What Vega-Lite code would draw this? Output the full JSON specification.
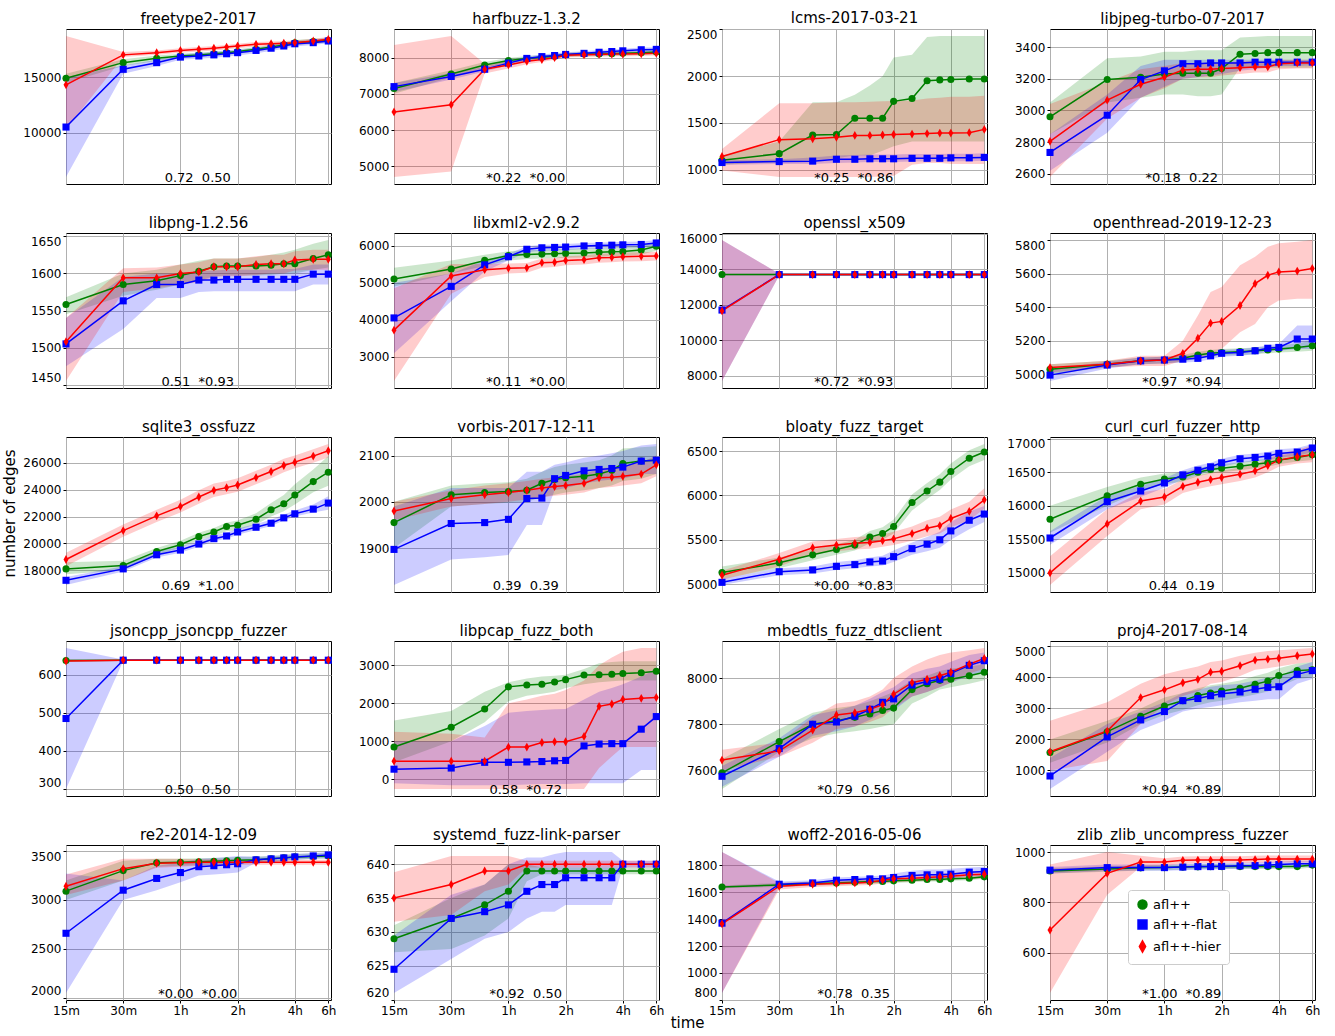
{
  "$schema": "https://vega.github.io/schema/vega-lite/v6.json",
  "background": "white",
  "padding": {"left": 3, "top": 10, "right": 4, "bottom": 2},
  "datasets": {
    "panels": [
      {"p": 1, "name": "freetype2-2017", "note": "0.72\u00a0\u00a00.50"},
      {"p": 2, "name": "harfbuzz-1.3.2", "note": "*0.22\u00a0\u00a0*0.00"},
      {"p": 3, "name": "lcms-2017-03-21", "note": "*0.25\u00a0\u00a0*0.86"},
      {"p": 4, "name": "libjpeg-turbo-07-2017", "note": "*0.18\u00a0\u00a00.22"},
      {"p": 5, "name": "libpng-1.2.56", "note": "0.51\u00a0\u00a0*0.93"},
      {"p": 6, "name": "libxml2-v2.9.2", "note": "*0.11\u00a0\u00a0*0.00"},
      {"p": 7, "name": "openssl_x509", "note": "*0.72\u00a0\u00a0*0.93"},
      {"p": 8, "name": "openthread-2019-12-23", "note": "*0.97\u00a0\u00a0*0.94"},
      {"p": 9, "name": "sqlite3_ossfuzz", "note": "0.69\u00a0\u00a0*1.00"},
      {"p": 10, "name": "vorbis-2017-12-11", "note": "0.39\u00a0\u00a00.39"},
      {"p": 11, "name": "bloaty_fuzz_target", "note": "*0.00\u00a0\u00a0*0.83"},
      {"p": 12, "name": "curl_curl_fuzzer_http", "note": "0.44\u00a0\u00a00.19"},
      {"p": 13, "name": "jsoncpp_jsoncpp_fuzzer", "note": "0.50\u00a0\u00a00.50"},
      {"p": 14, "name": "libpcap_fuzz_both", "note": "0.58\u00a0\u00a0*0.72"},
      {"p": 15, "name": "mbedtls_fuzz_dtlsclient", "note": "*0.79\u00a0\u00a00.56"},
      {"p": 16, "name": "proj4-2017-08-14", "note": "*0.94\u00a0\u00a0*0.89"},
      {"p": 17, "name": "re2-2014-12-09", "note": "*0.00\u00a0\u00a0*0.00"},
      {"p": 18, "name": "systemd_fuzz-link-parser", "note": "*0.92\u00a0\u00a00.50"},
      {"p": 19, "name": "woff2-2016-05-06", "note": "*0.78\u00a0\u00a00.35"},
      {"p": 20, "name": "zlib_zlib_uncompress_fuzzer", "note": "*1.00\u00a0\u00a0*0.89"}
    ],
    "runs": [
      {"p":1,"s":"g","t":15,"m":14900,"lo":14500,"hi":15300},
      {"p":1,"s":"g","t":30,"m":16300,"lo":16000,"hi":16600},
      {"p":1,"s":"g","t":45,"m":16700,"lo":16450,"hi":16950},
      {"p":1,"s":"g","t":60,"m":16900,"lo":16700,"hi":17100},
      {"p":1,"s":"g","t":75,"m":17000,"lo":16800,"hi":17200},
      {"p":1,"s":"g","t":90,"m":17100,"lo":16900,"hi":17300},
      {"p":1,"s":"g","t":105,"m":17200,"lo":17000,"hi":17400},
      {"p":1,"s":"g","t":120,"m":17300,"lo":17100,"hi":17500},
      {"p":1,"s":"g","t":150,"m":17500,"lo":17300,"hi":17700},
      {"p":1,"s":"g","t":180,"m":17700,"lo":17500,"hi":17900},
      {"p":1,"s":"g","t":210,"m":17900,"lo":17700,"hi":18100},
      {"p":1,"s":"g","t":240,"m":18100,"lo":17900,"hi":18350},
      {"p":1,"s":"g","t":300,"m":18200,"lo":18000,"hi":18450},
      {"p":1,"s":"g","t":360,"m":18300,"lo":18100,"hi":18500},
      {"p":1,"s":"b","t":15,"m":10500,"lo":6000,"hi":15000},
      {"p":1,"s":"b","t":30,"m":15700,"lo":15300,"hi":16050},
      {"p":1,"s":"b","t":45,"m":16300,"lo":16000,"hi":16550},
      {"p":1,"s":"b","t":60,"m":16800,"lo":16550,"hi":17050},
      {"p":1,"s":"b","t":75,"m":16900,"lo":16650,"hi":17150},
      {"p":1,"s":"b","t":90,"m":17000,"lo":16750,"hi":17250},
      {"p":1,"s":"b","t":105,"m":17100,"lo":16850,"hi":17350},
      {"p":1,"s":"b","t":120,"m":17200,"lo":16950,"hi":17450},
      {"p":1,"s":"b","t":150,"m":17400,"lo":17150,"hi":17650},
      {"p":1,"s":"b","t":180,"m":17600,"lo":17350,"hi":17850},
      {"p":1,"s":"b","t":210,"m":17800,"lo":17550,"hi":18050},
      {"p":1,"s":"b","t":240,"m":18000,"lo":17750,"hi":18250},
      {"p":1,"s":"b","t":300,"m":18100,"lo":17900,"hi":18350},
      {"p":1,"s":"b","t":360,"m":18250,"lo":18050,"hi":18550},
      {"p":1,"s":"r","t":15,"m":14300,"lo":10300,"hi":18700},
      {"p":1,"s":"r","t":30,"m":17000,"lo":16800,"hi":17250},
      {"p":1,"s":"r","t":45,"m":17200,"lo":17000,"hi":17400},
      {"p":1,"s":"r","t":60,"m":17400,"lo":17200,"hi":17600},
      {"p":1,"s":"r","t":75,"m":17500,"lo":17300,"hi":17700},
      {"p":1,"s":"r","t":90,"m":17600,"lo":17400,"hi":17800},
      {"p":1,"s":"r","t":105,"m":17700,"lo":17500,"hi":17900},
      {"p":1,"s":"r","t":120,"m":17800,"lo":17600,"hi":18000},
      {"p":1,"s":"r","t":150,"m":17950,"lo":17750,"hi":18150},
      {"p":1,"s":"r","t":180,"m":18000,"lo":17800,"hi":18200},
      {"p":1,"s":"r","t":210,"m":18050,"lo":17850,"hi":18250},
      {"p":1,"s":"r","t":240,"m":18100,"lo":17900,"hi":18300},
      {"p":1,"s":"r","t":300,"m":18250,"lo":18050,"hi":18450},
      {"p":1,"s":"r","t":360,"m":18400,"lo":18200,"hi":18600},

      {"p":2,"s":"g","t":15,"m":7150,"lo":7000,"hi":7300},
      {"p":2,"s":"g","t":30,"m":7550,"lo":7450,"hi":7650},
      {"p":2,"s":"g","t":45,"m":7800,"lo":7720,"hi":7880},
      {"p":2,"s":"g","t":60,"m":7920,"lo":7850,"hi":7990},
      {"p":2,"s":"g","t":75,"m":7980,"lo":7910,"hi":8050},
      {"p":2,"s":"g","t":90,"m":8010,"lo":7950,"hi":8070},
      {"p":2,"s":"g","t":105,"m":8040,"lo":7980,"hi":8100},
      {"p":2,"s":"g","t":120,"m":8080,"lo":8020,"hi":8140},
      {"p":2,"s":"g","t":150,"m":8100,"lo":8040,"hi":8160},
      {"p":2,"s":"g","t":180,"m":8100,"lo":8040,"hi":8160},
      {"p":2,"s":"g","t":210,"m":8110,"lo":8050,"hi":8170},
      {"p":2,"s":"g","t":240,"m":8120,"lo":8060,"hi":8180},
      {"p":2,"s":"g","t":300,"m":8140,"lo":8080,"hi":8200},
      {"p":2,"s":"g","t":360,"m":8160,"lo":8100,"hi":8220},
      {"p":2,"s":"b","t":15,"m":7200,"lo":7050,"hi":7300},
      {"p":2,"s":"b","t":30,"m":7480,"lo":7400,"hi":7580},
      {"p":2,"s":"b","t":45,"m":7680,"lo":7620,"hi":7750},
      {"p":2,"s":"b","t":60,"m":7850,"lo":7790,"hi":7910},
      {"p":2,"s":"b","t":75,"m":7980,"lo":7920,"hi":8040},
      {"p":2,"s":"b","t":90,"m":8030,"lo":7970,"hi":8090},
      {"p":2,"s":"b","t":105,"m":8060,"lo":8000,"hi":8120},
      {"p":2,"s":"b","t":120,"m":8090,"lo":8030,"hi":8150},
      {"p":2,"s":"b","t":150,"m":8120,"lo":8060,"hi":8180},
      {"p":2,"s":"b","t":180,"m":8150,"lo":8090,"hi":8210},
      {"p":2,"s":"b","t":210,"m":8170,"lo":8110,"hi":8230},
      {"p":2,"s":"b","t":240,"m":8190,"lo":8130,"hi":8250},
      {"p":2,"s":"b","t":300,"m":8220,"lo":8160,"hi":8280},
      {"p":2,"s":"b","t":360,"m":8230,"lo":8170,"hi":8290},
      {"p":2,"s":"r","t":15,"m":6500,"lo":4700,"hi":8350},
      {"p":2,"s":"r","t":30,"m":6700,"lo":4850,"hi":8600},
      {"p":2,"s":"r","t":45,"m":7680,"lo":7560,"hi":7830},
      {"p":2,"s":"r","t":60,"m":7800,"lo":7700,"hi":7900},
      {"p":2,"s":"r","t":75,"m":7900,"lo":7820,"hi":7980},
      {"p":2,"s":"r","t":90,"m":7950,"lo":7880,"hi":8020},
      {"p":2,"s":"r","t":105,"m":8000,"lo":7940,"hi":8060},
      {"p":2,"s":"r","t":120,"m":8070,"lo":8010,"hi":8130},
      {"p":2,"s":"r","t":150,"m":8080,"lo":8020,"hi":8140},
      {"p":2,"s":"r","t":180,"m":8090,"lo":8030,"hi":8150},
      {"p":2,"s":"r","t":210,"m":8100,"lo":8040,"hi":8160},
      {"p":2,"s":"r","t":240,"m":8100,"lo":8040,"hi":8160},
      {"p":2,"s":"r","t":300,"m":8110,"lo":8050,"hi":8170},
      {"p":2,"s":"r","t":360,"m":8120,"lo":8060,"hi":8180},

      {"p":3,"s":"g","t":15,"m":1100,"lo":1050,"hi":1150},
      {"p":3,"s":"g","t":30,"m":1170,"lo":1080,"hi":1300},
      {"p":3,"s":"g","t":45,"m":1370,"lo":1100,"hi":1720},
      {"p":3,"s":"g","t":60,"m":1375,"lo":1120,"hi":1720},
      {"p":3,"s":"g","t":75,"m":1550,"lo":1150,"hi":1800},
      {"p":3,"s":"g","t":90,"m":1550,"lo":1150,"hi":1900},
      {"p":3,"s":"g","t":105,"m":1550,"lo":1200,"hi":2000},
      {"p":3,"s":"g","t":120,"m":1730,"lo":1250,"hi":2200},
      {"p":3,"s":"g","t":150,"m":1760,"lo":1300,"hi":2230},
      {"p":3,"s":"g","t":180,"m":1950,"lo":1300,"hi":2420},
      {"p":3,"s":"g","t":210,"m":1960,"lo":1300,"hi":2430},
      {"p":3,"s":"g","t":240,"m":1965,"lo":1300,"hi":2430},
      {"p":3,"s":"g","t":300,"m":1970,"lo":1300,"hi":2430},
      {"p":3,"s":"g","t":360,"m":1970,"lo":1300,"hi":2430},
      {"p":3,"s":"b","t":15,"m":1075,"lo":1050,"hi":1100},
      {"p":3,"s":"b","t":30,"m":1085,"lo":1060,"hi":1110},
      {"p":3,"s":"b","t":45,"m":1090,"lo":1060,"hi":1130},
      {"p":3,"s":"b","t":60,"m":1110,"lo":1070,"hi":1150},
      {"p":3,"s":"b","t":75,"m":1110,"lo":1075,"hi":1155},
      {"p":3,"s":"b","t":90,"m":1115,"lo":1080,"hi":1160},
      {"p":3,"s":"b","t":105,"m":1115,"lo":1080,"hi":1160},
      {"p":3,"s":"b","t":120,"m":1115,"lo":1080,"hi":1160},
      {"p":3,"s":"b","t":150,"m":1120,"lo":1085,"hi":1165},
      {"p":3,"s":"b","t":180,"m":1120,"lo":1085,"hi":1165},
      {"p":3,"s":"b","t":210,"m":1120,"lo":1085,"hi":1165},
      {"p":3,"s":"b","t":240,"m":1125,"lo":1090,"hi":1170},
      {"p":3,"s":"b","t":300,"m":1125,"lo":1090,"hi":1170},
      {"p":3,"s":"b","t":360,"m":1130,"lo":1095,"hi":1175},
      {"p":3,"s":"r","t":15,"m":1140,"lo":990,"hi":1220},
      {"p":3,"s":"r","t":30,"m":1320,"lo":920,"hi":1710},
      {"p":3,"s":"r","t":45,"m":1330,"lo":920,"hi":1710},
      {"p":3,"s":"r","t":60,"m":1345,"lo":920,"hi":1720},
      {"p":3,"s":"r","t":75,"m":1365,"lo":920,"hi":1720},
      {"p":3,"s":"r","t":90,"m":1365,"lo":920,"hi":1725},
      {"p":3,"s":"r","t":105,"m":1370,"lo":925,"hi":1730},
      {"p":3,"s":"r","t":120,"m":1375,"lo":930,"hi":1735},
      {"p":3,"s":"r","t":150,"m":1380,"lo":1050,"hi":1740},
      {"p":3,"s":"r","t":180,"m":1385,"lo":1070,"hi":1760},
      {"p":3,"s":"r","t":210,"m":1390,"lo":1070,"hi":1770},
      {"p":3,"s":"r","t":240,"m":1390,"lo":1060,"hi":1780},
      {"p":3,"s":"r","t":300,"m":1395,"lo":1060,"hi":1780},
      {"p":3,"s":"r","t":360,"m":1430,"lo":1060,"hi":1790},

      {"p":4,"s":"g","t":15,"m":2960,"lo":2850,"hi":3050},
      {"p":4,"s":"g","t":30,"m":3195,"lo":3050,"hi":3330},
      {"p":4,"s":"g","t":45,"m":3210,"lo":3080,"hi":3340},
      {"p":4,"s":"g","t":60,"m":3230,"lo":3100,"hi":3370},
      {"p":4,"s":"g","t":75,"m":3235,"lo":3100,"hi":3370},
      {"p":4,"s":"g","t":90,"m":3235,"lo":3090,"hi":3380},
      {"p":4,"s":"g","t":105,"m":3235,"lo":3090,"hi":3380},
      {"p":4,"s":"g","t":120,"m":3265,"lo":3100,"hi":3380},
      {"p":4,"s":"g","t":150,"m":3355,"lo":3270,"hi":3460},
      {"p":4,"s":"g","t":180,"m":3360,"lo":3270,"hi":3465},
      {"p":4,"s":"g","t":210,"m":3365,"lo":3270,"hi":3470},
      {"p":4,"s":"g","t":240,"m":3365,"lo":3270,"hi":3470},
      {"p":4,"s":"g","t":300,"m":3365,"lo":3270,"hi":3470},
      {"p":4,"s":"g","t":360,"m":3365,"lo":3270,"hi":3470},
      {"p":4,"s":"b","t":15,"m":2735,"lo":2620,"hi":2850},
      {"p":4,"s":"b","t":30,"m":2970,"lo":2860,"hi":3100},
      {"p":4,"s":"b","t":45,"m":3195,"lo":3080,"hi":3280},
      {"p":4,"s":"b","t":60,"m":3250,"lo":3150,"hi":3320},
      {"p":4,"s":"b","t":75,"m":3295,"lo":3200,"hi":3320},
      {"p":4,"s":"b","t":90,"m":3295,"lo":3210,"hi":3320},
      {"p":4,"s":"b","t":105,"m":3300,"lo":3220,"hi":3320},
      {"p":4,"s":"b","t":120,"m":3300,"lo":3230,"hi":3320},
      {"p":4,"s":"b","t":150,"m":3300,"lo":3250,"hi":3320},
      {"p":4,"s":"b","t":180,"m":3305,"lo":3260,"hi":3320},
      {"p":4,"s":"b","t":210,"m":3305,"lo":3270,"hi":3320},
      {"p":4,"s":"b","t":240,"m":3305,"lo":3280,"hi":3320},
      {"p":4,"s":"b","t":300,"m":3305,"lo":3280,"hi":3320},
      {"p":4,"s":"b","t":360,"m":3305,"lo":3285,"hi":3320},
      {"p":4,"s":"r","t":15,"m":2805,"lo":2580,"hi":3040},
      {"p":4,"s":"r","t":30,"m":3065,"lo":2950,"hi":3180},
      {"p":4,"s":"r","t":45,"m":3165,"lo":3080,"hi":3260},
      {"p":4,"s":"r","t":60,"m":3210,"lo":3140,"hi":3280},
      {"p":4,"s":"r","t":75,"m":3255,"lo":3200,"hi":3300},
      {"p":4,"s":"r","t":90,"m":3260,"lo":3210,"hi":3300},
      {"p":4,"s":"r","t":105,"m":3260,"lo":3210,"hi":3300},
      {"p":4,"s":"r","t":120,"m":3265,"lo":3220,"hi":3300},
      {"p":4,"s":"r","t":150,"m":3270,"lo":3230,"hi":3310},
      {"p":4,"s":"r","t":180,"m":3275,"lo":3240,"hi":3310},
      {"p":4,"s":"r","t":210,"m":3275,"lo":3240,"hi":3310},
      {"p":4,"s":"r","t":240,"m":3295,"lo":3260,"hi":3320},
      {"p":4,"s":"r","t":300,"m":3300,"lo":3265,"hi":3320},
      {"p":4,"s":"r","t":360,"m":3300,"lo":3265,"hi":3320},

      {"p":5,"s":"g","t":15,"m":1558,"lo":1545,"hi":1568},
      {"p":5,"s":"g","t":30,"m":1585,"lo":1570,"hi":1600},
      {"p":5,"s":"g","t":45,"m":1590,"lo":1578,"hi":1605},
      {"p":5,"s":"g","t":60,"m":1597,"lo":1585,"hi":1612},
      {"p":5,"s":"g","t":75,"m":1603,"lo":1590,"hi":1617},
      {"p":5,"s":"g","t":90,"m":1609,"lo":1596,"hi":1620},
      {"p":5,"s":"g","t":105,"m":1610,"lo":1597,"hi":1620},
      {"p":5,"s":"g","t":120,"m":1610,"lo":1597,"hi":1620},
      {"p":5,"s":"g","t":150,"m":1610,"lo":1597,"hi":1622},
      {"p":5,"s":"g","t":180,"m":1611,"lo":1598,"hi":1625},
      {"p":5,"s":"g","t":210,"m":1613,"lo":1600,"hi":1628},
      {"p":5,"s":"g","t":240,"m":1613,"lo":1600,"hi":1632},
      {"p":5,"s":"g","t":300,"m":1620,"lo":1605,"hi":1640},
      {"p":5,"s":"g","t":360,"m":1625,"lo":1608,"hi":1645},
      {"p":5,"s":"b","t":15,"m":1505,"lo":1475,"hi":1540},
      {"p":5,"s":"b","t":30,"m":1563,"lo":1525,"hi":1595},
      {"p":5,"s":"b","t":45,"m":1585,"lo":1567,"hi":1600},
      {"p":5,"s":"b","t":60,"m":1585,"lo":1567,"hi":1600},
      {"p":5,"s":"b","t":75,"m":1591,"lo":1575,"hi":1603},
      {"p":5,"s":"b","t":90,"m":1591,"lo":1576,"hi":1604},
      {"p":5,"s":"b","t":105,"m":1592,"lo":1576,"hi":1605},
      {"p":5,"s":"b","t":120,"m":1592,"lo":1576,"hi":1605},
      {"p":5,"s":"b","t":150,"m":1592,"lo":1576,"hi":1605},
      {"p":5,"s":"b","t":180,"m":1592,"lo":1576,"hi":1605},
      {"p":5,"s":"b","t":210,"m":1592,"lo":1576,"hi":1606},
      {"p":5,"s":"b","t":240,"m":1592,"lo":1576,"hi":1606},
      {"p":5,"s":"b","t":300,"m":1599,"lo":1585,"hi":1612},
      {"p":5,"s":"b","t":360,"m":1599,"lo":1585,"hi":1612},
      {"p":5,"s":"r","t":15,"m":1508,"lo":1455,"hi":1540},
      {"p":5,"s":"r","t":30,"m":1594,"lo":1575,"hi":1607},
      {"p":5,"s":"r","t":45,"m":1594,"lo":1580,"hi":1608},
      {"p":5,"s":"r","t":60,"m":1600,"lo":1585,"hi":1612},
      {"p":5,"s":"r","t":75,"m":1602,"lo":1588,"hi":1615},
      {"p":5,"s":"r","t":90,"m":1609,"lo":1595,"hi":1620},
      {"p":5,"s":"r","t":105,"m":1609,"lo":1596,"hi":1620},
      {"p":5,"s":"r","t":120,"m":1609,"lo":1596,"hi":1620},
      {"p":5,"s":"r","t":150,"m":1612,"lo":1598,"hi":1623},
      {"p":5,"s":"r","t":180,"m":1613,"lo":1600,"hi":1625},
      {"p":5,"s":"r","t":210,"m":1613,"lo":1600,"hi":1625},
      {"p":5,"s":"r","t":240,"m":1618,"lo":1604,"hi":1630},
      {"p":5,"s":"r","t":300,"m":1619,"lo":1605,"hi":1632},
      {"p":5,"s":"r","t":360,"m":1619,"lo":1605,"hi":1632},

      {"p":6,"s":"g","t":15,"m":5100,"lo":4900,"hi":5400},
      {"p":6,"s":"g","t":30,"m":5370,"lo":5250,"hi":5600},
      {"p":6,"s":"g","t":45,"m":5600,"lo":5450,"hi":5750},
      {"p":6,"s":"g","t":60,"m":5730,"lo":5600,"hi":5850},
      {"p":6,"s":"g","t":75,"m":5760,"lo":5640,"hi":5880},
      {"p":6,"s":"g","t":90,"m":5770,"lo":5650,"hi":5890},
      {"p":6,"s":"g","t":105,"m":5780,"lo":5660,"hi":5900},
      {"p":6,"s":"g","t":120,"m":5790,"lo":5670,"hi":5910},
      {"p":6,"s":"g","t":150,"m":5800,"lo":5680,"hi":5920},
      {"p":6,"s":"g","t":180,"m":5820,"lo":5700,"hi":5940},
      {"p":6,"s":"g","t":210,"m":5830,"lo":5710,"hi":5950},
      {"p":6,"s":"g","t":240,"m":5840,"lo":5720,"hi":5960},
      {"p":6,"s":"g","t":300,"m":5880,"lo":5760,"hi":6000},
      {"p":6,"s":"g","t":360,"m":5980,"lo":5860,"hi":6100},
      {"p":6,"s":"b","t":15,"m":4050,"lo":3100,"hi":5000},
      {"p":6,"s":"b","t":30,"m":4900,"lo":4500,"hi":5250},
      {"p":6,"s":"b","t":45,"m":5480,"lo":5300,"hi":5600},
      {"p":6,"s":"b","t":60,"m":5700,"lo":5600,"hi":5780},
      {"p":6,"s":"b","t":75,"m":5900,"lo":5820,"hi":5980},
      {"p":6,"s":"b","t":90,"m":5940,"lo":5860,"hi":6020},
      {"p":6,"s":"b","t":105,"m":5950,"lo":5870,"hi":6030},
      {"p":6,"s":"b","t":120,"m":5960,"lo":5880,"hi":6040},
      {"p":6,"s":"b","t":150,"m":5990,"lo":5910,"hi":6070},
      {"p":6,"s":"b","t":180,"m":6000,"lo":5920,"hi":6080},
      {"p":6,"s":"b","t":210,"m":6010,"lo":5930,"hi":6090},
      {"p":6,"s":"b","t":240,"m":6020,"lo":5940,"hi":6100},
      {"p":6,"s":"b","t":300,"m":6030,"lo":5950,"hi":6110},
      {"p":6,"s":"b","t":360,"m":6070,"lo":5990,"hi":6150},
      {"p":6,"s":"r","t":15,"m":3720,"lo":2350,"hi":4850},
      {"p":6,"s":"r","t":30,"m":5180,"lo":4700,"hi":5500},
      {"p":6,"s":"r","t":45,"m":5350,"lo":5150,"hi":5500},
      {"p":6,"s":"r","t":60,"m":5390,"lo":5250,"hi":5520},
      {"p":6,"s":"r","t":75,"m":5400,"lo":5270,"hi":5530},
      {"p":6,"s":"r","t":90,"m":5540,"lo":5400,"hi":5650},
      {"p":6,"s":"r","t":105,"m":5550,"lo":5420,"hi":5660},
      {"p":6,"s":"r","t":120,"m":5600,"lo":5470,"hi":5710},
      {"p":6,"s":"r","t":150,"m":5620,"lo":5490,"hi":5730},
      {"p":6,"s":"r","t":180,"m":5670,"lo":5540,"hi":5780},
      {"p":6,"s":"r","t":210,"m":5680,"lo":5550,"hi":5790},
      {"p":6,"s":"r","t":240,"m":5700,"lo":5570,"hi":5810},
      {"p":6,"s":"r","t":300,"m":5710,"lo":5580,"hi":5820},
      {"p":6,"s":"r","t":360,"m":5720,"lo":5600,"hi":5830},

      {"p":7,"s":"g","t":15,"m":13700,"lo":13650,"hi":13750},
      {"p":7,"s":"g","t":30,"m":13700,"lo":13650,"hi":13750},
      {"p":7,"s":"g","t":45,"m":13700,"lo":13650,"hi":13750},
      {"p":7,"s":"g","t":60,"m":13700,"lo":13650,"hi":13750},
      {"p":7,"s":"g","t":75,"m":13700,"lo":13650,"hi":13750},
      {"p":7,"s":"g","t":90,"m":13700,"lo":13650,"hi":13750},
      {"p":7,"s":"g","t":105,"m":13700,"lo":13650,"hi":13750},
      {"p":7,"s":"g","t":120,"m":13700,"lo":13650,"hi":13750},
      {"p":7,"s":"g","t":150,"m":13700,"lo":13650,"hi":13750},
      {"p":7,"s":"g","t":180,"m":13700,"lo":13650,"hi":13750},
      {"p":7,"s":"g","t":210,"m":13700,"lo":13650,"hi":13750},
      {"p":7,"s":"g","t":240,"m":13700,"lo":13650,"hi":13750},
      {"p":7,"s":"g","t":300,"m":13700,"lo":13650,"hi":13750},
      {"p":7,"s":"g","t":360,"m":13700,"lo":13650,"hi":13750},
      {"p":7,"s":"b","t":15,"m":11700,"lo":7700,"hi":15650},
      {"p":7,"s":"b","t":30,"m":13700,"lo":13650,"hi":13750},
      {"p":7,"s":"b","t":45,"m":13700,"lo":13650,"hi":13750},
      {"p":7,"s":"b","t":60,"m":13700,"lo":13650,"hi":13750},
      {"p":7,"s":"b","t":75,"m":13700,"lo":13650,"hi":13750},
      {"p":7,"s":"b","t":90,"m":13700,"lo":13650,"hi":13750},
      {"p":7,"s":"b","t":105,"m":13700,"lo":13650,"hi":13750},
      {"p":7,"s":"b","t":120,"m":13700,"lo":13650,"hi":13750},
      {"p":7,"s":"b","t":150,"m":13700,"lo":13650,"hi":13750},
      {"p":7,"s":"b","t":180,"m":13700,"lo":13650,"hi":13750},
      {"p":7,"s":"b","t":210,"m":13700,"lo":13650,"hi":13750},
      {"p":7,"s":"b","t":240,"m":13700,"lo":13650,"hi":13750},
      {"p":7,"s":"b","t":300,"m":13700,"lo":13650,"hi":13750},
      {"p":7,"s":"b","t":360,"m":13700,"lo":13650,"hi":13750},
      {"p":7,"s":"r","t":15,"m":11650,"lo":7700,"hi":15650},
      {"p":7,"s":"r","t":30,"m":13700,"lo":13650,"hi":13750},
      {"p":7,"s":"r","t":45,"m":13700,"lo":13650,"hi":13750},
      {"p":7,"s":"r","t":60,"m":13700,"lo":13650,"hi":13750},
      {"p":7,"s":"r","t":75,"m":13700,"lo":13650,"hi":13750},
      {"p":7,"s":"r","t":90,"m":13700,"lo":13650,"hi":13750},
      {"p":7,"s":"r","t":105,"m":13700,"lo":13650,"hi":13750},
      {"p":7,"s":"r","t":120,"m":13700,"lo":13650,"hi":13750},
      {"p":7,"s":"r","t":150,"m":13700,"lo":13650,"hi":13750},
      {"p":7,"s":"r","t":180,"m":13700,"lo":13650,"hi":13750},
      {"p":7,"s":"r","t":210,"m":13700,"lo":13650,"hi":13750},
      {"p":7,"s":"r","t":240,"m":13700,"lo":13650,"hi":13750},
      {"p":7,"s":"r","t":300,"m":13700,"lo":13650,"hi":13750},
      {"p":7,"s":"r","t":360,"m":13700,"lo":13650,"hi":13750},

      {"p":8,"s":"g","t":15,"m":5030,"lo":5000,"hi":5060},
      {"p":8,"s":"g","t":30,"m":5060,"lo":5040,"hi":5080},
      {"p":8,"s":"g","t":45,"m":5080,"lo":5060,"hi":5100},
      {"p":8,"s":"g","t":60,"m":5085,"lo":5065,"hi":5105},
      {"p":8,"s":"g","t":75,"m":5095,"lo":5075,"hi":5115},
      {"p":8,"s":"g","t":90,"m":5115,"lo":5095,"hi":5135},
      {"p":8,"s":"g","t":105,"m":5125,"lo":5105,"hi":5145},
      {"p":8,"s":"g","t":120,"m":5130,"lo":5110,"hi":5150},
      {"p":8,"s":"g","t":150,"m":5135,"lo":5115,"hi":5155},
      {"p":8,"s":"g","t":180,"m":5140,"lo":5120,"hi":5160},
      {"p":8,"s":"g","t":210,"m":5145,"lo":5125,"hi":5165},
      {"p":8,"s":"g","t":240,"m":5150,"lo":5130,"hi":5170},
      {"p":8,"s":"g","t":300,"m":5160,"lo":5135,"hi":5185},
      {"p":8,"s":"g","t":360,"m":5170,"lo":5140,"hi":5200},
      {"p":8,"s":"b","t":15,"m":4995,"lo":4960,"hi":5030},
      {"p":8,"s":"b","t":30,"m":5055,"lo":5035,"hi":5075},
      {"p":8,"s":"b","t":45,"m":5080,"lo":5060,"hi":5100},
      {"p":8,"s":"b","t":60,"m":5085,"lo":5065,"hi":5105},
      {"p":8,"s":"b","t":75,"m":5090,"lo":5070,"hi":5110},
      {"p":8,"s":"b","t":90,"m":5095,"lo":5075,"hi":5115},
      {"p":8,"s":"b","t":105,"m":5110,"lo":5090,"hi":5130},
      {"p":8,"s":"b","t":120,"m":5125,"lo":5105,"hi":5145},
      {"p":8,"s":"b","t":150,"m":5130,"lo":5110,"hi":5150},
      {"p":8,"s":"b","t":180,"m":5140,"lo":5120,"hi":5160},
      {"p":8,"s":"b","t":210,"m":5155,"lo":5135,"hi":5175},
      {"p":8,"s":"b","t":240,"m":5160,"lo":5140,"hi":5180},
      {"p":8,"s":"b","t":300,"m":5210,"lo":5150,"hi":5290},
      {"p":8,"s":"b","t":360,"m":5210,"lo":5150,"hi":5290},
      {"p":8,"s":"r","t":15,"m":5040,"lo":5010,"hi":5060},
      {"p":8,"s":"r","t":30,"m":5060,"lo":5040,"hi":5080},
      {"p":8,"s":"r","t":45,"m":5080,"lo":5050,"hi":5110},
      {"p":8,"s":"r","t":60,"m":5085,"lo":5050,"hi":5110},
      {"p":8,"s":"r","t":75,"m":5125,"lo":5080,"hi":5200},
      {"p":8,"s":"r","t":90,"m":5215,"lo":5100,"hi":5350},
      {"p":8,"s":"r","t":105,"m":5305,"lo":5120,"hi":5490},
      {"p":8,"s":"r","t":120,"m":5315,"lo":5150,"hi":5520},
      {"p":8,"s":"r","t":150,"m":5410,"lo":5250,"hi":5650},
      {"p":8,"s":"r","t":180,"m":5540,"lo":5300,"hi":5700},
      {"p":8,"s":"r","t":210,"m":5590,"lo":5400,"hi":5760},
      {"p":8,"s":"r","t":240,"m":5610,"lo":5440,"hi":5780},
      {"p":8,"s":"r","t":300,"m":5615,"lo":5450,"hi":5790},
      {"p":8,"s":"r","t":360,"m":5630,"lo":5450,"hi":5800},

      {"p":9,"s":"g","t":15,"m":18100,"lo":17700,"hi":18600},
      {"p":9,"s":"g","t":30,"m":18350,"lo":18000,"hi":18700},
      {"p":9,"s":"g","t":45,"m":19400,"lo":19150,"hi":19650},
      {"p":9,"s":"g","t":60,"m":19900,"lo":19650,"hi":20200},
      {"p":9,"s":"g","t":75,"m":20500,"lo":20250,"hi":20800},
      {"p":9,"s":"g","t":90,"m":20850,"lo":20550,"hi":21150},
      {"p":9,"s":"g","t":105,"m":21250,"lo":20900,"hi":21550},
      {"p":9,"s":"g","t":120,"m":21350,"lo":21000,"hi":21700},
      {"p":9,"s":"g","t":150,"m":21800,"lo":21400,"hi":22250},
      {"p":9,"s":"g","t":180,"m":22500,"lo":22000,"hi":23000},
      {"p":9,"s":"g","t":210,"m":22950,"lo":22400,"hi":23600},
      {"p":9,"s":"g","t":240,"m":23600,"lo":22900,"hi":24400},
      {"p":9,"s":"g","t":300,"m":24600,"lo":23800,"hi":25500},
      {"p":9,"s":"g","t":360,"m":25300,"lo":24300,"hi":26500},
      {"p":9,"s":"b","t":15,"m":17250,"lo":16900,"hi":17500},
      {"p":9,"s":"b","t":30,"m":18100,"lo":17900,"hi":18300},
      {"p":9,"s":"b","t":45,"m":19150,"lo":18950,"hi":19400},
      {"p":9,"s":"b","t":60,"m":19500,"lo":19300,"hi":19750},
      {"p":9,"s":"b","t":75,"m":19950,"lo":19750,"hi":20200},
      {"p":9,"s":"b","t":90,"m":20350,"lo":20150,"hi":20600},
      {"p":9,"s":"b","t":105,"m":20550,"lo":20350,"hi":20800},
      {"p":9,"s":"b","t":120,"m":20850,"lo":20650,"hi":21100},
      {"p":9,"s":"b","t":150,"m":21200,"lo":21000,"hi":21450},
      {"p":9,"s":"b","t":180,"m":21500,"lo":21300,"hi":21750},
      {"p":9,"s":"b","t":210,"m":21900,"lo":21700,"hi":22150},
      {"p":9,"s":"b","t":240,"m":22200,"lo":22000,"hi":22450},
      {"p":9,"s":"b","t":300,"m":22550,"lo":22300,"hi":22900},
      {"p":9,"s":"b","t":360,"m":23000,"lo":22500,"hi":23500},
      {"p":9,"s":"r","t":15,"m":18800,"lo":18300,"hi":19300},
      {"p":9,"s":"r","t":30,"m":20950,"lo":20500,"hi":21400},
      {"p":9,"s":"r","t":45,"m":22050,"lo":21600,"hi":22500},
      {"p":9,"s":"r","t":60,"m":22750,"lo":22300,"hi":23250},
      {"p":9,"s":"r","t":75,"m":23450,"lo":22950,"hi":23950},
      {"p":9,"s":"r","t":90,"m":23950,"lo":23450,"hi":24450},
      {"p":9,"s":"r","t":105,"m":24150,"lo":23650,"hi":24650},
      {"p":9,"s":"r","t":120,"m":24350,"lo":23850,"hi":24850},
      {"p":9,"s":"r","t":150,"m":24900,"lo":24400,"hi":25400},
      {"p":9,"s":"r","t":180,"m":25350,"lo":24850,"hi":25850},
      {"p":9,"s":"r","t":210,"m":25800,"lo":25300,"hi":26300},
      {"p":9,"s":"r","t":240,"m":26050,"lo":25600,"hi":26550},
      {"p":9,"s":"r","t":300,"m":26500,"lo":26000,"hi":27000},
      {"p":9,"s":"r","t":360,"m":26900,"lo":26400,"hi":27400},

      {"p":10,"s":"g","t":15,"m":1955,"lo":1900,"hi":2000},
      {"p":10,"s":"g","t":30,"m":2015,"lo":1990,"hi":2035},
      {"p":10,"s":"g","t":45,"m":2020,"lo":1995,"hi":2040},
      {"p":10,"s":"g","t":60,"m":2022,"lo":1998,"hi":2042},
      {"p":10,"s":"g","t":75,"m":2025,"lo":2000,"hi":2050},
      {"p":10,"s":"g","t":90,"m":2040,"lo":2010,"hi":2065},
      {"p":10,"s":"g","t":105,"m":2048,"lo":2015,"hi":2075},
      {"p":10,"s":"g","t":120,"m":2052,"lo":2020,"hi":2080},
      {"p":10,"s":"g","t":150,"m":2055,"lo":2025,"hi":2085},
      {"p":10,"s":"g","t":180,"m":2060,"lo":2030,"hi":2090},
      {"p":10,"s":"g","t":210,"m":2068,"lo":2035,"hi":2100},
      {"p":10,"s":"g","t":240,"m":2083,"lo":2045,"hi":2115},
      {"p":10,"s":"g","t":300,"m":2088,"lo":2050,"hi":2118},
      {"p":10,"s":"g","t":360,"m":2090,"lo":2060,"hi":2120},
      {"p":10,"s":"b","t":15,"m":1897,"lo":1820,"hi":1990},
      {"p":10,"s":"b","t":30,"m":1953,"lo":1875,"hi":2030},
      {"p":10,"s":"b","t":45,"m":1955,"lo":1880,"hi":2030},
      {"p":10,"s":"b","t":60,"m":1962,"lo":1885,"hi":2030},
      {"p":10,"s":"b","t":75,"m":2007,"lo":1950,"hi":2065},
      {"p":10,"s":"b","t":90,"m":2008,"lo":1950,"hi":2065},
      {"p":10,"s":"b","t":105,"m":2050,"lo":2025,"hi":2080},
      {"p":10,"s":"b","t":120,"m":2057,"lo":2030,"hi":2085},
      {"p":10,"s":"b","t":150,"m":2067,"lo":2040,"hi":2095},
      {"p":10,"s":"b","t":180,"m":2070,"lo":2045,"hi":2100},
      {"p":10,"s":"b","t":210,"m":2072,"lo":2048,"hi":2105},
      {"p":10,"s":"b","t":240,"m":2075,"lo":2050,"hi":2110},
      {"p":10,"s":"b","t":300,"m":2088,"lo":2060,"hi":2122},
      {"p":10,"s":"b","t":360,"m":2090,"lo":2060,"hi":2125},
      {"p":10,"s":"r","t":15,"m":1980,"lo":1960,"hi":2000},
      {"p":10,"s":"r","t":30,"m":2007,"lo":1990,"hi":2025},
      {"p":10,"s":"r","t":45,"m":2015,"lo":1995,"hi":2035},
      {"p":10,"s":"r","t":60,"m":2020,"lo":2000,"hi":2040},
      {"p":10,"s":"r","t":75,"m":2025,"lo":2005,"hi":2045},
      {"p":10,"s":"r","t":90,"m":2030,"lo":2010,"hi":2050},
      {"p":10,"s":"r","t":105,"m":2033,"lo":2013,"hi":2053},
      {"p":10,"s":"r","t":120,"m":2035,"lo":2015,"hi":2055},
      {"p":10,"s":"r","t":150,"m":2040,"lo":2020,"hi":2060},
      {"p":10,"s":"r","t":180,"m":2052,"lo":2030,"hi":2072},
      {"p":10,"s":"r","t":210,"m":2053,"lo":2032,"hi":2075},
      {"p":10,"s":"r","t":240,"m":2055,"lo":2035,"hi":2078},
      {"p":10,"s":"r","t":300,"m":2060,"lo":2040,"hi":2085},
      {"p":10,"s":"r","t":360,"m":2080,"lo":2055,"hi":2100},

      {"p":11,"s":"g","t":15,"m":5130,"lo":5060,"hi":5200},
      {"p":11,"s":"g","t":30,"m":5240,"lo":5180,"hi":5300},
      {"p":11,"s":"g","t":45,"m":5330,"lo":5270,"hi":5390},
      {"p":11,"s":"g","t":60,"m":5390,"lo":5330,"hi":5450},
      {"p":11,"s":"g","t":75,"m":5440,"lo":5380,"hi":5500},
      {"p":11,"s":"g","t":90,"m":5530,"lo":5460,"hi":5600},
      {"p":11,"s":"g","t":105,"m":5570,"lo":5500,"hi":5640},
      {"p":11,"s":"g","t":120,"m":5650,"lo":5570,"hi":5730},
      {"p":11,"s":"g","t":150,"m":5920,"lo":5830,"hi":6010},
      {"p":11,"s":"g","t":180,"m":6050,"lo":5960,"hi":6140},
      {"p":11,"s":"g","t":210,"m":6150,"lo":6060,"hi":6240},
      {"p":11,"s":"g","t":240,"m":6270,"lo":6180,"hi":6360},
      {"p":11,"s":"g","t":300,"m":6420,"lo":6330,"hi":6510},
      {"p":11,"s":"g","t":360,"m":6490,"lo":6400,"hi":6580},
      {"p":11,"s":"b","t":15,"m":5020,"lo":4990,"hi":5060},
      {"p":11,"s":"b","t":30,"m":5140,"lo":5100,"hi":5180},
      {"p":11,"s":"b","t":45,"m":5160,"lo":5120,"hi":5200},
      {"p":11,"s":"b","t":60,"m":5200,"lo":5160,"hi":5250},
      {"p":11,"s":"b","t":75,"m":5220,"lo":5180,"hi":5270},
      {"p":11,"s":"b","t":90,"m":5250,"lo":5200,"hi":5300},
      {"p":11,"s":"b","t":105,"m":5260,"lo":5210,"hi":5320},
      {"p":11,"s":"b","t":120,"m":5310,"lo":5250,"hi":5380},
      {"p":11,"s":"b","t":150,"m":5400,"lo":5330,"hi":5470},
      {"p":11,"s":"b","t":180,"m":5450,"lo":5370,"hi":5530},
      {"p":11,"s":"b","t":210,"m":5500,"lo":5410,"hi":5590},
      {"p":11,"s":"b","t":240,"m":5600,"lo":5500,"hi":5700},
      {"p":11,"s":"b","t":300,"m":5720,"lo":5620,"hi":5820},
      {"p":11,"s":"b","t":360,"m":5790,"lo":5700,"hi":5880},
      {"p":11,"s":"r","t":15,"m":5100,"lo":5050,"hi":5150},
      {"p":11,"s":"r","t":30,"m":5280,"lo":5200,"hi":5350},
      {"p":11,"s":"r","t":45,"m":5410,"lo":5340,"hi":5480},
      {"p":11,"s":"r","t":60,"m":5440,"lo":5370,"hi":5510},
      {"p":11,"s":"r","t":75,"m":5460,"lo":5390,"hi":5530},
      {"p":11,"s":"r","t":90,"m":5470,"lo":5400,"hi":5540},
      {"p":11,"s":"r","t":105,"m":5490,"lo":5420,"hi":5560},
      {"p":11,"s":"r","t":120,"m":5510,"lo":5440,"hi":5590},
      {"p":11,"s":"r","t":150,"m":5570,"lo":5490,"hi":5650},
      {"p":11,"s":"r","t":180,"m":5630,"lo":5540,"hi":5720},
      {"p":11,"s":"r","t":210,"m":5660,"lo":5570,"hi":5760},
      {"p":11,"s":"r","t":240,"m":5740,"lo":5640,"hi":5840},
      {"p":11,"s":"r","t":300,"m":5820,"lo":5720,"hi":5930},
      {"p":11,"s":"r","t":360,"m":5950,"lo":5850,"hi":6080},

      {"p":12,"s":"g","t":15,"m":15800,"lo":15600,"hi":16000},
      {"p":12,"s":"g","t":30,"m":16150,"lo":16000,"hi":16280},
      {"p":12,"s":"g","t":45,"m":16320,"lo":16220,"hi":16420},
      {"p":12,"s":"g","t":60,"m":16400,"lo":16320,"hi":16480},
      {"p":12,"s":"g","t":75,"m":16430,"lo":16360,"hi":16500},
      {"p":12,"s":"g","t":90,"m":16500,"lo":16440,"hi":16560},
      {"p":12,"s":"g","t":105,"m":16540,"lo":16480,"hi":16600},
      {"p":12,"s":"g","t":120,"m":16560,"lo":16500,"hi":16620},
      {"p":12,"s":"g","t":150,"m":16590,"lo":16530,"hi":16650},
      {"p":12,"s":"g","t":180,"m":16620,"lo":16560,"hi":16680},
      {"p":12,"s":"g","t":210,"m":16640,"lo":16580,"hi":16700},
      {"p":12,"s":"g","t":240,"m":16680,"lo":16620,"hi":16740},
      {"p":12,"s":"g","t":300,"m":16720,"lo":16660,"hi":16790},
      {"p":12,"s":"g","t":360,"m":16760,"lo":16680,"hi":16850},
      {"p":12,"s":"b","t":15,"m":15520,"lo":15420,"hi":15620},
      {"p":12,"s":"b","t":30,"m":16060,"lo":15950,"hi":16150},
      {"p":12,"s":"b","t":45,"m":16220,"lo":16130,"hi":16300},
      {"p":12,"s":"b","t":60,"m":16340,"lo":16270,"hi":16410},
      {"p":12,"s":"b","t":75,"m":16460,"lo":16390,"hi":16530},
      {"p":12,"s":"b","t":90,"m":16530,"lo":16460,"hi":16600},
      {"p":12,"s":"b","t":105,"m":16580,"lo":16520,"hi":16640},
      {"p":12,"s":"b","t":120,"m":16640,"lo":16580,"hi":16700},
      {"p":12,"s":"b","t":150,"m":16700,"lo":16640,"hi":16760},
      {"p":12,"s":"b","t":180,"m":16720,"lo":16660,"hi":16780},
      {"p":12,"s":"b","t":210,"m":16740,"lo":16680,"hi":16800},
      {"p":12,"s":"b","t":240,"m":16780,"lo":16720,"hi":16840},
      {"p":12,"s":"b","t":300,"m":16800,"lo":16740,"hi":16860},
      {"p":12,"s":"b","t":360,"m":16860,"lo":16800,"hi":16920},
      {"p":12,"s":"r","t":15,"m":15000,"lo":14820,"hi":15250},
      {"p":12,"s":"r","t":30,"m":15730,"lo":15550,"hi":15950},
      {"p":12,"s":"r","t":45,"m":16070,"lo":15950,"hi":16200},
      {"p":12,"s":"r","t":60,"m":16130,"lo":16020,"hi":16250},
      {"p":12,"s":"r","t":75,"m":16290,"lo":16190,"hi":16390},
      {"p":12,"s":"r","t":90,"m":16350,"lo":16250,"hi":16450},
      {"p":12,"s":"r","t":105,"m":16390,"lo":16290,"hi":16490},
      {"p":12,"s":"r","t":120,"m":16420,"lo":16320,"hi":16520},
      {"p":12,"s":"r","t":150,"m":16470,"lo":16370,"hi":16570},
      {"p":12,"s":"r","t":180,"m":16520,"lo":16420,"hi":16620},
      {"p":12,"s":"r","t":210,"m":16600,"lo":16500,"hi":16700},
      {"p":12,"s":"r","t":240,"m":16680,"lo":16580,"hi":16780},
      {"p":12,"s":"r","t":300,"m":16730,"lo":16630,"hi":16830},
      {"p":12,"s":"r","t":360,"m":16760,"lo":16650,"hi":16900},

      {"p":13,"s":"g","t":15,"m":637,"lo":635,"hi":640},
      {"p":13,"s":"g","t":30,"m":638,"lo":636,"hi":640},
      {"p":13,"s":"g","t":45,"m":638,"lo":636,"hi":640},
      {"p":13,"s":"g","t":60,"m":638,"lo":636,"hi":640},
      {"p":13,"s":"g","t":75,"m":638,"lo":636,"hi":640},
      {"p":13,"s":"g","t":90,"m":638,"lo":636,"hi":640},
      {"p":13,"s":"g","t":105,"m":638,"lo":636,"hi":640},
      {"p":13,"s":"g","t":120,"m":638,"lo":636,"hi":640},
      {"p":13,"s":"g","t":150,"m":638,"lo":636,"hi":640},
      {"p":13,"s":"g","t":180,"m":638,"lo":636,"hi":640},
      {"p":13,"s":"g","t":210,"m":638,"lo":636,"hi":640},
      {"p":13,"s":"g","t":240,"m":638,"lo":636,"hi":640},
      {"p":13,"s":"g","t":300,"m":638,"lo":636,"hi":640},
      {"p":13,"s":"g","t":360,"m":638,"lo":636,"hi":640},
      {"p":13,"s":"b","t":15,"m":485,"lo":300,"hi":670},
      {"p":13,"s":"b","t":30,"m":638,"lo":636,"hi":640},
      {"p":13,"s":"b","t":45,"m":638,"lo":636,"hi":640},
      {"p":13,"s":"b","t":60,"m":638,"lo":636,"hi":640},
      {"p":13,"s":"b","t":75,"m":638,"lo":636,"hi":640},
      {"p":13,"s":"b","t":90,"m":638,"lo":636,"hi":640},
      {"p":13,"s":"b","t":105,"m":638,"lo":636,"hi":640},
      {"p":13,"s":"b","t":120,"m":638,"lo":636,"hi":640},
      {"p":13,"s":"b","t":150,"m":638,"lo":636,"hi":640},
      {"p":13,"s":"b","t":180,"m":638,"lo":636,"hi":640},
      {"p":13,"s":"b","t":210,"m":638,"lo":636,"hi":640},
      {"p":13,"s":"b","t":240,"m":638,"lo":636,"hi":640},
      {"p":13,"s":"b","t":300,"m":638,"lo":636,"hi":640},
      {"p":13,"s":"b","t":360,"m":638,"lo":636,"hi":640},
      {"p":13,"s":"r","t":15,"m":636,"lo":633,"hi":640},
      {"p":13,"s":"r","t":30,"m":638,"lo":636,"hi":640},
      {"p":13,"s":"r","t":45,"m":638,"lo":636,"hi":640},
      {"p":13,"s":"r","t":60,"m":638,"lo":636,"hi":640},
      {"p":13,"s":"r","t":75,"m":638,"lo":636,"hi":640},
      {"p":13,"s":"r","t":90,"m":638,"lo":636,"hi":640},
      {"p":13,"s":"r","t":105,"m":638,"lo":636,"hi":640},
      {"p":13,"s":"r","t":120,"m":638,"lo":636,"hi":640},
      {"p":13,"s":"r","t":150,"m":638,"lo":636,"hi":640},
      {"p":13,"s":"r","t":180,"m":638,"lo":636,"hi":640},
      {"p":13,"s":"r","t":210,"m":638,"lo":636,"hi":640},
      {"p":13,"s":"r","t":240,"m":638,"lo":636,"hi":640},
      {"p":13,"s":"r","t":300,"m":638,"lo":636,"hi":640},
      {"p":13,"s":"r","t":360,"m":638,"lo":636,"hi":640},

      {"p":14,"s":"g","t":15,"m":850,"lo":450,"hi":1550},
      {"p":14,"s":"g","t":30,"m":1370,"lo":1000,"hi":1800},
      {"p":14,"s":"g","t":45,"m":1850,"lo":1500,"hi":2300},
      {"p":14,"s":"g","t":60,"m":2430,"lo":2050,"hi":2550},
      {"p":14,"s":"g","t":75,"m":2480,"lo":2200,"hi":2650},
      {"p":14,"s":"g","t":90,"m":2500,"lo":2250,"hi":2700},
      {"p":14,"s":"g","t":105,"m":2560,"lo":2300,"hi":2720},
      {"p":14,"s":"g","t":120,"m":2620,"lo":2400,"hi":2750},
      {"p":14,"s":"g","t":150,"m":2740,"lo":2500,"hi":2900},
      {"p":14,"s":"g","t":180,"m":2750,"lo":2550,"hi":3050},
      {"p":14,"s":"g","t":210,"m":2760,"lo":2580,"hi":3080},
      {"p":14,"s":"g","t":240,"m":2780,"lo":2600,"hi":3100},
      {"p":14,"s":"g","t":300,"m":2800,"lo":2600,"hi":3100},
      {"p":14,"s":"g","t":360,"m":2840,"lo":2600,"hi":3100},
      {"p":14,"s":"b","t":15,"m":270,"lo":-100,"hi":1000},
      {"p":14,"s":"b","t":30,"m":300,"lo":-150,"hi":1000},
      {"p":14,"s":"b","t":45,"m":450,"lo":-150,"hi":1400},
      {"p":14,"s":"b","t":60,"m":450,"lo":-150,"hi":1750},
      {"p":14,"s":"b","t":75,"m":460,"lo":-130,"hi":1800},
      {"p":14,"s":"b","t":90,"m":470,"lo":-120,"hi":1820},
      {"p":14,"s":"b","t":105,"m":490,"lo":-120,"hi":1840},
      {"p":14,"s":"b","t":120,"m":500,"lo":-120,"hi":1850},
      {"p":14,"s":"b","t":150,"m":880,"lo":-100,"hi":2100},
      {"p":14,"s":"b","t":180,"m":930,"lo":-100,"hi":2300},
      {"p":14,"s":"b","t":210,"m":940,"lo":-100,"hi":2400},
      {"p":14,"s":"b","t":240,"m":940,"lo":-100,"hi":2500},
      {"p":14,"s":"b","t":300,"m":1320,"lo":250,"hi":2700},
      {"p":14,"s":"b","t":360,"m":1650,"lo":250,"hi":2900},
      {"p":14,"s":"r","t":15,"m":480,"lo":-250,"hi":1250},
      {"p":14,"s":"r","t":30,"m":480,"lo":-250,"hi":1200},
      {"p":14,"s":"r","t":45,"m":480,"lo":-250,"hi":1100},
      {"p":14,"s":"r","t":60,"m":850,"lo":-250,"hi":2000},
      {"p":14,"s":"r","t":75,"m":850,"lo":-250,"hi":2100},
      {"p":14,"s":"r","t":90,"m":970,"lo":-250,"hi":2200},
      {"p":14,"s":"r","t":105,"m":990,"lo":-250,"hi":2250},
      {"p":14,"s":"r","t":120,"m":990,"lo":-250,"hi":2350},
      {"p":14,"s":"r","t":150,"m":1130,"lo":-250,"hi":2600},
      {"p":14,"s":"r","t":180,"m":1920,"lo":300,"hi":3000},
      {"p":14,"s":"r","t":210,"m":1980,"lo":600,"hi":3200},
      {"p":14,"s":"r","t":240,"m":2100,"lo":850,"hi":3350},
      {"p":14,"s":"r","t":300,"m":2130,"lo":850,"hi":3450},
      {"p":14,"s":"r","t":360,"m":2150,"lo":850,"hi":3450},

      {"p":15,"s":"g","t":15,"m":7590,"lo":7520,"hi":7650},
      {"p":15,"s":"g","t":30,"m":7725,"lo":7680,"hi":7780},
      {"p":15,"s":"g","t":45,"m":7800,"lo":7740,"hi":7850},
      {"p":15,"s":"g","t":60,"m":7815,"lo":7760,"hi":7870},
      {"p":15,"s":"g","t":75,"m":7830,"lo":7770,"hi":7880},
      {"p":15,"s":"g","t":90,"m":7845,"lo":7780,"hi":7900},
      {"p":15,"s":"g","t":105,"m":7860,"lo":7790,"hi":7920},
      {"p":15,"s":"g","t":120,"m":7870,"lo":7800,"hi":7940},
      {"p":15,"s":"g","t":150,"m":7950,"lo":7890,"hi":7990},
      {"p":15,"s":"g","t":180,"m":7975,"lo":7920,"hi":8010},
      {"p":15,"s":"g","t":210,"m":7990,"lo":7950,"hi":8030},
      {"p":15,"s":"g","t":240,"m":7995,"lo":7960,"hi":8040},
      {"p":15,"s":"g","t":300,"m":8010,"lo":7975,"hi":8050},
      {"p":15,"s":"g","t":360,"m":8025,"lo":7990,"hi":8060},
      {"p":15,"s":"b","t":15,"m":7575,"lo":7530,"hi":7620},
      {"p":15,"s":"b","t":30,"m":7695,"lo":7660,"hi":7740},
      {"p":15,"s":"b","t":45,"m":7800,"lo":7750,"hi":7840},
      {"p":15,"s":"b","t":60,"m":7810,"lo":7770,"hi":7860},
      {"p":15,"s":"b","t":75,"m":7835,"lo":7790,"hi":7880},
      {"p":15,"s":"b","t":90,"m":7865,"lo":7820,"hi":7910},
      {"p":15,"s":"b","t":105,"m":7895,"lo":7850,"hi":7940},
      {"p":15,"s":"b","t":120,"m":7910,"lo":7860,"hi":7960},
      {"p":15,"s":"b","t":150,"m":7970,"lo":7920,"hi":8020},
      {"p":15,"s":"b","t":180,"m":7985,"lo":7940,"hi":8040},
      {"p":15,"s":"b","t":210,"m":7995,"lo":7960,"hi":8050},
      {"p":15,"s":"b","t":240,"m":8020,"lo":7980,"hi":8070},
      {"p":15,"s":"b","t":300,"m":8055,"lo":8010,"hi":8100},
      {"p":15,"s":"b","t":360,"m":8075,"lo":8030,"hi":8110},
      {"p":15,"s":"r","t":15,"m":7645,"lo":7600,"hi":7690},
      {"p":15,"s":"r","t":30,"m":7685,"lo":7660,"hi":7720},
      {"p":15,"s":"r","t":45,"m":7775,"lo":7720,"hi":7830},
      {"p":15,"s":"r","t":60,"m":7840,"lo":7780,"hi":7890},
      {"p":15,"s":"r","t":75,"m":7850,"lo":7790,"hi":7900},
      {"p":15,"s":"r","t":90,"m":7865,"lo":7810,"hi":7920},
      {"p":15,"s":"r","t":105,"m":7885,"lo":7830,"hi":7950},
      {"p":15,"s":"r","t":120,"m":7930,"lo":7870,"hi":8000},
      {"p":15,"s":"r","t":150,"m":7980,"lo":7920,"hi":8050},
      {"p":15,"s":"r","t":180,"m":7995,"lo":7940,"hi":8080},
      {"p":15,"s":"r","t":210,"m":8010,"lo":7960,"hi":8100},
      {"p":15,"s":"r","t":240,"m":8025,"lo":7980,"hi":8110},
      {"p":15,"s":"r","t":300,"m":8060,"lo":8020,"hi":8120},
      {"p":15,"s":"r","t":360,"m":8085,"lo":8040,"hi":8130},

      {"p":16,"s":"g","t":15,"m":1580,"lo":1250,"hi":2000},
      {"p":16,"s":"g","t":30,"m":2250,"lo":1900,"hi":2600},
      {"p":16,"s":"g","t":45,"m":2750,"lo":2500,"hi":3000},
      {"p":16,"s":"g","t":60,"m":3080,"lo":2800,"hi":3350},
      {"p":16,"s":"g","t":75,"m":3250,"lo":2950,"hi":3500},
      {"p":16,"s":"g","t":90,"m":3420,"lo":3100,"hi":3650},
      {"p":16,"s":"g","t":105,"m":3500,"lo":3200,"hi":3750},
      {"p":16,"s":"g","t":120,"m":3560,"lo":3250,"hi":3800},
      {"p":16,"s":"g","t":150,"m":3650,"lo":3350,"hi":3900},
      {"p":16,"s":"g","t":180,"m":3780,"lo":3450,"hi":4050},
      {"p":16,"s":"g","t":210,"m":3880,"lo":3550,"hi":4150},
      {"p":16,"s":"g","t":240,"m":4060,"lo":3700,"hi":4300},
      {"p":16,"s":"g","t":300,"m":4220,"lo":3950,"hi":4450},
      {"p":16,"s":"g","t":360,"m":4250,"lo":4000,"hi":4500},
      {"p":16,"s":"b","t":15,"m":820,"lo":400,"hi":1400},
      {"p":16,"s":"b","t":30,"m":2080,"lo":1600,"hi":2500},
      {"p":16,"s":"b","t":45,"m":2630,"lo":2300,"hi":2900},
      {"p":16,"s":"b","t":60,"m":2900,"lo":2600,"hi":3200},
      {"p":16,"s":"b","t":75,"m":3250,"lo":2900,"hi":3500},
      {"p":16,"s":"b","t":90,"m":3320,"lo":3000,"hi":3600},
      {"p":16,"s":"b","t":105,"m":3410,"lo":3050,"hi":3700},
      {"p":16,"s":"b","t":120,"m":3470,"lo":3100,"hi":3750},
      {"p":16,"s":"b","t":150,"m":3530,"lo":3200,"hi":3800},
      {"p":16,"s":"b","t":180,"m":3620,"lo":3250,"hi":3900},
      {"p":16,"s":"b","t":210,"m":3680,"lo":3300,"hi":4000},
      {"p":16,"s":"b","t":240,"m":3700,"lo":3300,"hi":4000},
      {"p":16,"s":"b","t":300,"m":4100,"lo":3800,"hi":4350},
      {"p":16,"s":"b","t":360,"m":4220,"lo":3950,"hi":4500},
      {"p":16,"s":"r","t":15,"m":1600,"lo":1000,"hi":2600},
      {"p":16,"s":"r","t":30,"m":2270,"lo":1300,"hi":3200},
      {"p":16,"s":"r","t":45,"m":3350,"lo":2500,"hi":3800},
      {"p":16,"s":"r","t":60,"m":3600,"lo":3100,"hi":4100},
      {"p":16,"s":"r","t":75,"m":3830,"lo":3400,"hi":4250},
      {"p":16,"s":"r","t":90,"m":3940,"lo":3550,"hi":4350},
      {"p":16,"s":"r","t":105,"m":4170,"lo":3800,"hi":4500},
      {"p":16,"s":"r","t":120,"m":4200,"lo":3850,"hi":4550},
      {"p":16,"s":"r","t":150,"m":4380,"lo":4050,"hi":4700},
      {"p":16,"s":"r","t":180,"m":4560,"lo":4250,"hi":4800},
      {"p":16,"s":"r","t":210,"m":4590,"lo":4300,"hi":4850},
      {"p":16,"s":"r","t":240,"m":4620,"lo":4350,"hi":4880},
      {"p":16,"s":"r","t":300,"m":4700,"lo":4450,"hi":4920},
      {"p":16,"s":"r","t":360,"m":4760,"lo":4500,"hi":4950},

      {"p":17,"s":"g","t":15,"m":3090,"lo":3000,"hi":3200},
      {"p":17,"s":"g","t":30,"m":3300,"lo":3200,"hi":3400},
      {"p":17,"s":"g","t":45,"m":3380,"lo":3340,"hi":3420},
      {"p":17,"s":"g","t":60,"m":3385,"lo":3350,"hi":3420},
      {"p":17,"s":"g","t":75,"m":3390,"lo":3355,"hi":3425},
      {"p":17,"s":"g","t":90,"m":3395,"lo":3360,"hi":3430},
      {"p":17,"s":"g","t":105,"m":3400,"lo":3365,"hi":3435},
      {"p":17,"s":"g","t":120,"m":3405,"lo":3370,"hi":3440},
      {"p":17,"s":"g","t":150,"m":3410,"lo":3380,"hi":3445},
      {"p":17,"s":"g","t":180,"m":3420,"lo":3390,"hi":3450},
      {"p":17,"s":"g","t":210,"m":3430,"lo":3400,"hi":3460},
      {"p":17,"s":"g","t":240,"m":3440,"lo":3410,"hi":3470},
      {"p":17,"s":"g","t":300,"m":3445,"lo":3420,"hi":3475},
      {"p":17,"s":"g","t":360,"m":3450,"lo":3420,"hi":3480},
      {"p":17,"s":"b","t":15,"m":2660,"lo":2050,"hi":3270},
      {"p":17,"s":"b","t":30,"m":3100,"lo":3000,"hi":3200},
      {"p":17,"s":"b","t":45,"m":3220,"lo":3100,"hi":3350},
      {"p":17,"s":"b","t":60,"m":3280,"lo":3180,"hi":3380},
      {"p":17,"s":"b","t":75,"m":3340,"lo":3250,"hi":3420},
      {"p":17,"s":"b","t":90,"m":3350,"lo":3260,"hi":3430},
      {"p":17,"s":"b","t":105,"m":3360,"lo":3270,"hi":3440},
      {"p":17,"s":"b","t":120,"m":3370,"lo":3280,"hi":3450},
      {"p":17,"s":"b","t":150,"m":3410,"lo":3380,"hi":3440},
      {"p":17,"s":"b","t":180,"m":3420,"lo":3390,"hi":3450},
      {"p":17,"s":"b","t":210,"m":3430,"lo":3400,"hi":3460},
      {"p":17,"s":"b","t":240,"m":3440,"lo":3410,"hi":3470},
      {"p":17,"s":"b","t":300,"m":3450,"lo":3420,"hi":3480},
      {"p":17,"s":"b","t":360,"m":3460,"lo":3430,"hi":3490},
      {"p":17,"s":"r","t":15,"m":3140,"lo":3050,"hi":3260},
      {"p":17,"s":"r","t":30,"m":3320,"lo":3200,"hi":3420},
      {"p":17,"s":"r","t":45,"m":3375,"lo":3330,"hi":3420},
      {"p":17,"s":"r","t":60,"m":3380,"lo":3340,"hi":3420},
      {"p":17,"s":"r","t":75,"m":3385,"lo":3350,"hi":3415},
      {"p":17,"s":"r","t":90,"m":3385,"lo":3355,"hi":3415},
      {"p":17,"s":"r","t":105,"m":3385,"lo":3355,"hi":3415},
      {"p":17,"s":"r","t":120,"m":3385,"lo":3360,"hi":3410},
      {"p":17,"s":"r","t":150,"m":3385,"lo":3360,"hi":3410},
      {"p":17,"s":"r","t":180,"m":3385,"lo":3360,"hi":3410},
      {"p":17,"s":"r","t":210,"m":3385,"lo":3360,"hi":3410},
      {"p":17,"s":"r","t":240,"m":3385,"lo":3360,"hi":3410},
      {"p":17,"s":"r","t":300,"m":3385,"lo":3360,"hi":3410},
      {"p":17,"s":"r","t":360,"m":3385,"lo":3360,"hi":3410},

      {"p":18,"s":"g","t":15,"m":629,"lo":627,"hi":631},
      {"p":18,"s":"g","t":30,"m":632,"lo":627.5,"hi":635},
      {"p":18,"s":"g","t":45,"m":634,"lo":629.5,"hi":637},
      {"p":18,"s":"g","t":60,"m":636,"lo":632,"hi":640},
      {"p":18,"s":"g","t":75,"m":639,"lo":637.5,"hi":640},
      {"p":18,"s":"g","t":90,"m":639,"lo":638.5,"hi":639.5},
      {"p":18,"s":"g","t":105,"m":639,"lo":638.5,"hi":639.5},
      {"p":18,"s":"g","t":120,"m":639,"lo":638.5,"hi":639.5},
      {"p":18,"s":"g","t":150,"m":639,"lo":638.5,"hi":639.5},
      {"p":18,"s":"g","t":180,"m":639,"lo":638.5,"hi":639.5},
      {"p":18,"s":"g","t":210,"m":639,"lo":638.5,"hi":639.5},
      {"p":18,"s":"g","t":240,"m":639,"lo":638.5,"hi":639.5},
      {"p":18,"s":"g","t":300,"m":639,"lo":638.5,"hi":639.5},
      {"p":18,"s":"g","t":360,"m":639,"lo":638.5,"hi":639.5},
      {"p":18,"s":"b","t":15,"m":624.5,"lo":621,"hi":629.5},
      {"p":18,"s":"b","t":30,"m":632,"lo":626,"hi":635.5},
      {"p":18,"s":"b","t":45,"m":633,"lo":629,"hi":637},
      {"p":18,"s":"b","t":60,"m":634,"lo":630,"hi":640},
      {"p":18,"s":"b","t":75,"m":636,"lo":632,"hi":641},
      {"p":18,"s":"b","t":90,"m":637,"lo":633,"hi":641},
      {"p":18,"s":"b","t":105,"m":637,"lo":633,"hi":641.5},
      {"p":18,"s":"b","t":120,"m":638,"lo":634,"hi":641.8},
      {"p":18,"s":"b","t":150,"m":638,"lo":634,"hi":641.8},
      {"p":18,"s":"b","t":180,"m":638,"lo":634,"hi":641.8},
      {"p":18,"s":"b","t":210,"m":638,"lo":634,"hi":641.8},
      {"p":18,"s":"b","t":240,"m":640,"lo":639.5,"hi":640.5},
      {"p":18,"s":"b","t":300,"m":640,"lo":639.5,"hi":640.5},
      {"p":18,"s":"b","t":360,"m":640,"lo":639.5,"hi":640.5},
      {"p":18,"s":"r","t":15,"m":635,"lo":631.5,"hi":638.8},
      {"p":18,"s":"r","t":30,"m":637,"lo":632.5,"hi":641.2},
      {"p":18,"s":"r","t":45,"m":639,"lo":636,"hi":641.2},
      {"p":18,"s":"r","t":60,"m":639,"lo":637,"hi":641.2},
      {"p":18,"s":"r","t":75,"m":640,"lo":639.5,"hi":640.5},
      {"p":18,"s":"r","t":90,"m":640,"lo":639.5,"hi":640.5},
      {"p":18,"s":"r","t":105,"m":640,"lo":639.5,"hi":640.5},
      {"p":18,"s":"r","t":120,"m":640,"lo":639.5,"hi":640.5},
      {"p":18,"s":"r","t":150,"m":640,"lo":639.5,"hi":640.5},
      {"p":18,"s":"r","t":180,"m":640,"lo":639.5,"hi":640.5},
      {"p":18,"s":"r","t":210,"m":640,"lo":639.5,"hi":640.5},
      {"p":18,"s":"r","t":240,"m":640,"lo":639.5,"hi":640.5},
      {"p":18,"s":"r","t":300,"m":640,"lo":639.5,"hi":640.5},
      {"p":18,"s":"r","t":360,"m":640,"lo":639.5,"hi":640.5},

      {"p":19,"s":"g","t":15,"m":1640,"lo":1630,"hi":1650},
      {"p":19,"s":"g","t":30,"m":1655,"lo":1640,"hi":1670},
      {"p":19,"s":"g","t":45,"m":1665,"lo":1650,"hi":1680},
      {"p":19,"s":"g","t":60,"m":1670,"lo":1655,"hi":1685},
      {"p":19,"s":"g","t":75,"m":1675,"lo":1660,"hi":1690},
      {"p":19,"s":"g","t":90,"m":1680,"lo":1665,"hi":1695},
      {"p":19,"s":"g","t":105,"m":1680,"lo":1665,"hi":1695},
      {"p":19,"s":"g","t":120,"m":1685,"lo":1670,"hi":1700},
      {"p":19,"s":"g","t":150,"m":1690,"lo":1675,"hi":1705},
      {"p":19,"s":"g","t":180,"m":1695,"lo":1680,"hi":1710},
      {"p":19,"s":"g","t":210,"m":1695,"lo":1680,"hi":1710},
      {"p":19,"s":"g","t":240,"m":1700,"lo":1685,"hi":1715},
      {"p":19,"s":"g","t":300,"m":1705,"lo":1690,"hi":1720},
      {"p":19,"s":"g","t":360,"m":1715,"lo":1700,"hi":1730},
      {"p":19,"s":"b","t":15,"m":1370,"lo":850,"hi":1900},
      {"p":19,"s":"b","t":30,"m":1660,"lo":1640,"hi":1680},
      {"p":19,"s":"b","t":45,"m":1670,"lo":1650,"hi":1690},
      {"p":19,"s":"b","t":60,"m":1690,"lo":1670,"hi":1710},
      {"p":19,"s":"b","t":75,"m":1695,"lo":1675,"hi":1715},
      {"p":19,"s":"b","t":90,"m":1700,"lo":1680,"hi":1720},
      {"p":19,"s":"b","t":105,"m":1700,"lo":1680,"hi":1725},
      {"p":19,"s":"b","t":120,"m":1710,"lo":1685,"hi":1740},
      {"p":19,"s":"b","t":150,"m":1725,"lo":1695,"hi":1760},
      {"p":19,"s":"b","t":180,"m":1730,"lo":1700,"hi":1770},
      {"p":19,"s":"b","t":210,"m":1730,"lo":1700,"hi":1770},
      {"p":19,"s":"b","t":240,"m":1735,"lo":1705,"hi":1775},
      {"p":19,"s":"b","t":300,"m":1750,"lo":1720,"hi":1785},
      {"p":19,"s":"b","t":360,"m":1755,"lo":1720,"hi":1790},
      {"p":19,"s":"r","t":15,"m":1365,"lo":850,"hi":1900},
      {"p":19,"s":"r","t":30,"m":1645,"lo":1620,"hi":1670},
      {"p":19,"s":"r","t":45,"m":1660,"lo":1640,"hi":1680},
      {"p":19,"s":"r","t":60,"m":1665,"lo":1645,"hi":1685},
      {"p":19,"s":"r","t":75,"m":1670,"lo":1650,"hi":1690},
      {"p":19,"s":"r","t":90,"m":1675,"lo":1655,"hi":1695},
      {"p":19,"s":"r","t":105,"m":1690,"lo":1665,"hi":1710},
      {"p":19,"s":"r","t":120,"m":1700,"lo":1675,"hi":1720},
      {"p":19,"s":"r","t":150,"m":1705,"lo":1680,"hi":1725},
      {"p":19,"s":"r","t":180,"m":1710,"lo":1685,"hi":1730},
      {"p":19,"s":"r","t":210,"m":1715,"lo":1690,"hi":1740},
      {"p":19,"s":"r","t":240,"m":1720,"lo":1695,"hi":1745},
      {"p":19,"s":"r","t":300,"m":1730,"lo":1700,"hi":1755},
      {"p":19,"s":"r","t":360,"m":1735,"lo":1700,"hi":1760},

      {"p":20,"s":"g","t":15,"m":925,"lo":915,"hi":935},
      {"p":20,"s":"g","t":30,"m":932,"lo":922,"hi":942},
      {"p":20,"s":"g","t":45,"m":937,"lo":927,"hi":947},
      {"p":20,"s":"g","t":60,"m":938,"lo":928,"hi":948},
      {"p":20,"s":"g","t":75,"m":940,"lo":930,"hi":950},
      {"p":20,"s":"g","t":90,"m":941,"lo":931,"hi":951},
      {"p":20,"s":"g","t":105,"m":942,"lo":932,"hi":952},
      {"p":20,"s":"g","t":120,"m":942,"lo":932,"hi":952},
      {"p":20,"s":"g","t":150,"m":942,"lo":932,"hi":952},
      {"p":20,"s":"g","t":180,"m":942,"lo":932,"hi":952},
      {"p":20,"s":"g","t":210,"m":942,"lo":932,"hi":952},
      {"p":20,"s":"g","t":240,"m":942,"lo":932,"hi":952},
      {"p":20,"s":"g","t":300,"m":942,"lo":932,"hi":952},
      {"p":20,"s":"g","t":360,"m":948,"lo":938,"hi":958},
      {"p":20,"s":"b","t":15,"m":928,"lo":915,"hi":940},
      {"p":20,"s":"b","t":30,"m":938,"lo":925,"hi":950},
      {"p":20,"s":"b","t":45,"m":938,"lo":926,"hi":950},
      {"p":20,"s":"b","t":60,"m":938,"lo":926,"hi":950},
      {"p":20,"s":"b","t":75,"m":940,"lo":928,"hi":952},
      {"p":20,"s":"b","t":90,"m":942,"lo":930,"hi":954},
      {"p":20,"s":"b","t":105,"m":942,"lo":930,"hi":954},
      {"p":20,"s":"b","t":120,"m":943,"lo":931,"hi":955},
      {"p":20,"s":"b","t":150,"m":945,"lo":933,"hi":957},
      {"p":20,"s":"b","t":180,"m":946,"lo":934,"hi":958},
      {"p":20,"s":"b","t":210,"m":948,"lo":936,"hi":960},
      {"p":20,"s":"b","t":240,"m":950,"lo":938,"hi":962},
      {"p":20,"s":"b","t":300,"m":953,"lo":940,"hi":965},
      {"p":20,"s":"b","t":360,"m":953,"lo":940,"hi":965},
      {"p":20,"s":"r","t":15,"m":690,"lo":440,"hi":950},
      {"p":20,"s":"r","t":30,"m":915,"lo":830,"hi":1000},
      {"p":20,"s":"r","t":45,"m":960,"lo":940,"hi":985},
      {"p":20,"s":"r","t":60,"m":960,"lo":945,"hi":975},
      {"p":20,"s":"r","t":75,"m":967,"lo":952,"hi":982},
      {"p":20,"s":"r","t":90,"m":968,"lo":955,"hi":983},
      {"p":20,"s":"r","t":105,"m":968,"lo":955,"hi":983},
      {"p":20,"s":"r","t":120,"m":968,"lo":955,"hi":983},
      {"p":20,"s":"r","t":150,"m":968,"lo":955,"hi":983},
      {"p":20,"s":"r","t":180,"m":970,"lo":957,"hi":985},
      {"p":20,"s":"r","t":210,"m":972,"lo":958,"hi":986},
      {"p":20,"s":"r","t":240,"m":972,"lo":958,"hi":986},
      {"p":20,"s":"r","t":300,"m":972,"lo":958,"hi":986},
      {"p":20,"s":"r","t":360,"m":972,"lo":958,"hi":986}
    ]
  },
  "title": {"text": "time", "orient": "bottom", "anchor": "middle", "fontSize": 15, "font": "DejaVu Sans", "fontWeight": "normal", "offset": 0, "dx": 26},
  "vconcat": [
    {
      "title": {"text": "number of edges", "orient": "left", "anchor": "middle", "fontSize": 15, "font": "DejaVu Sans", "fontWeight": "normal", "offset": 4},
      "data": {"name": "runs"},
      "transform": [
        {"lookup": "p", "from": {"data": {"name": "panels"}, "key": "p", "fields": ["name", "note"]}}
      ],
      "facet": {
        "field": "name",
        "type": "nominal",
        "sort": {"field": "p", "op": "min"},
        "header": {"title": null, "labelFontSize": 15, "labelFont": "DejaVu Sans", "labelPadding": 2, "labelColor": "#000"}
      },
      "columns": 4,
      "bounds": "flush",
      "spacing": {"row": 49, "column": 63},
      "resolve": {"scale": {"y": "independent"}},
      "spec": {
        "width": 265,
        "height": 155,
        "encoding": {
          "x": {
            "field": "t",
            "type": "quantitative",
            "scale": {"type": "log", "domain": [15, 372], "nice": false},
            "axis": {
              "title": null,
              "values": [15, 30, 60, 120, 240, 360],
              "labelExpr": "datum.value == 15 ? '15m' : datum.value == 30 ? '30m' : datum.value == 60 ? '1h' : datum.value == 120 ? '2h' : datum.value == 240 ? '4h' : '6h'",
              "labelFlush": false,
              "labelOverlap": false
            }
          }
        },
        "layer": [
          {
            "mark": {"type": "area", "fillOpacity": 0.2, "strokeWidth": 0},
            "encoding": {
              "y": {"field": "lo", "type": "quantitative", "scale": {"zero": false, "nice": false, "padding": 7}, "axis": {"title": null, "tickCount": 4, "format": "d", "labelFlush": 7}},
              "y2": {"field": "hi"},
              "color": {"field": "s", "type": "nominal", "scale": {"domain": ["g", "b", "r"], "range": ["#008000", "#0000ff", "#ff0000"]}, "legend": {"labelExpr": "datum.label == 'g' ? 'afl++' : datum.label == 'b' ? 'afl++-flat' : 'afl++-hier'"}}
            }
          },
          {
            "mark": {"type": "line", "strokeWidth": 1.5},
            "encoding": {
              "y": {"field": "m", "type": "quantitative"},
              "color": {"field": "s", "type": "nominal", "legend": {"labelExpr": "datum.label == 'g' ? 'afl++' : datum.label == 'b' ? 'afl++-flat' : 'afl++-hier'"}}
            }
          },
          {
            "mark": {"type": "point", "filled": true, "opacity": 1, "size": 50},
            "encoding": {
              "y": {"field": "m", "type": "quantitative"},
              "color": {"field": "s", "type": "nominal", "legend": {"labelExpr": "datum.label == 'g' ? 'afl++' : datum.label == 'b' ? 'afl++-flat' : 'afl++-hier'"}},
              "shape": {"field": "s", "type": "nominal", "scale": {"domain": ["g", "b", "r"], "range": ["circle", "square", "M0,-1.25L0.7,0L0,1.25L-0.7,0Z"]}, "legend": {"labelExpr": "datum.label == 'g' ? 'afl++' : datum.label == 'b' ? 'afl++-flat' : 'afl++-hier'"}}
            }
          },
          {
            "transform": [
              {"aggregate": [{"op": "min", "field": "lo", "as": "ymin"}, {"op": "min", "field": "t", "as": "t"}], "groupby": ["name", "note"]}
            ],
            "mark": {"type": "text", "fontSize": 13, "font": "DejaVu Sans", "baseline": "alphabetic", "dy": 5, "color": "#000"},
            "encoding": {
              "x": {"datum": 74, "type": "quantitative"},
              "y": {"field": "ymin", "type": "quantitative"},
              "text": {"field": "note", "type": "nominal"}
            }
          }
        ]
      }
    }
  ],
  "config": {
    "font": "DejaVu Sans",
    "view": {"stroke": "#000", "strokeWidth": 1},
    "axis": {
      "grid": true,
      "gridColor": "#b0b0b0",
      "gridWidth": 1,
      "domain": false,
      "ticks": true,
      "tickColor": "#000",
      "tickSize": 3,
      "labelColor": "#000",
      "labelFont": "DejaVu Sans",
      "labelFontSize": 12,
      "labelPadding": 2
    },
    "legend": {
      "orient": "none",
      "legendX": 1062,
      "legendY": 861,
      "title": null,
      "labelFontSize": 13,
      "labelFont": "DejaVu Sans",
      "labelColor": "#000",
      "strokeColor": "#cccccc",
      "fillColor": "white",
      "padding": 8,
      "cornerRadius": 3,
      "symbolSize": 80,
      "symbolOpacity": 1,
      "rowPadding": 5
    }
  }
}
